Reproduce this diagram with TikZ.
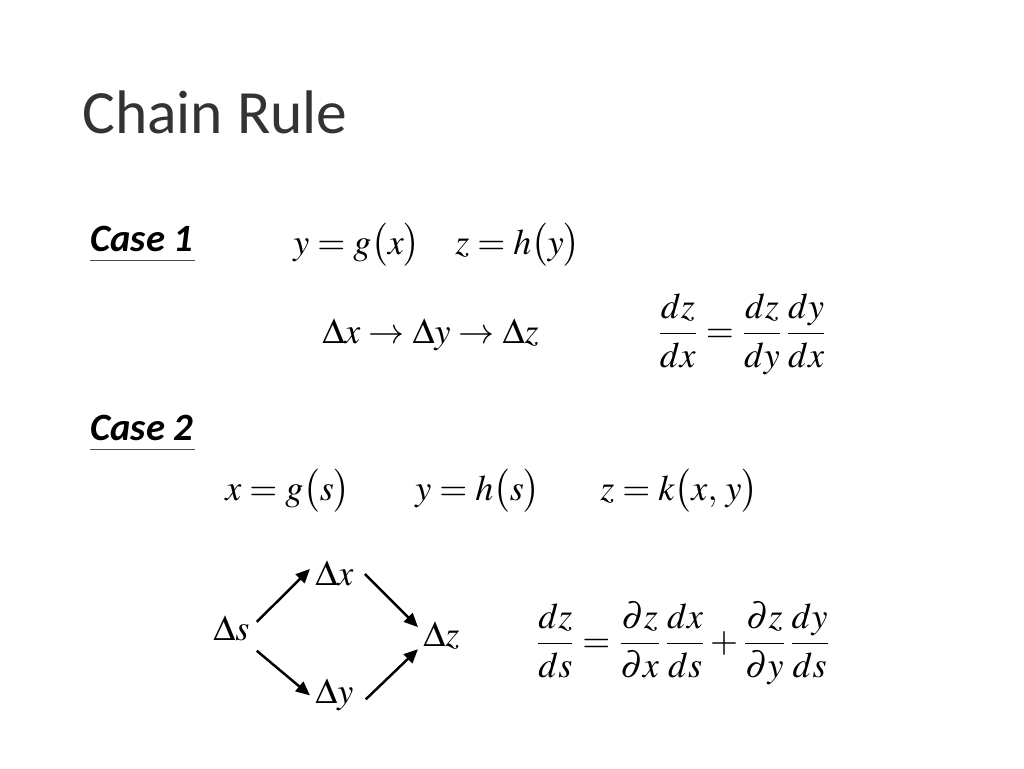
\documentclass[tikz,border=0pt]{standalone}
\usepackage{mathptmx}
\usepackage[no-math]{fontspec}
\newfontfamily\slidefont{Carlito}
\usetikzlibrary{arrows.meta}

\begin{document}
\begin{tikzpicture}[x=0.02cm,y=-0.02cm,
  every node/.style={inner sep=0pt},
  eq/.style={anchor=base west,font=\fontsize{20.5}{24}\selectfont},
  case/.style={anchor=base west,font=\slidefont\bfseries\itshape\fontsize{22}{24}\selectfont},
  flow/.style={-{Triangle[length=8pt,width=7pt]},line width=1.4pt}]
\useasboundingbox (0,0) rectangle (1024,768);
\node[anchor=base west,font=\slidefont\fontsize{35}{40}\selectfont,text=black!80] (title) at (82,133) {Chain Rule};
% case 1
\node[case] (case1) at (90,251) {Case 1};
\draw[line width=0.6pt,black!70] ([yshift=-5.4pt]case1.base west) -- ([yshift=-5.4pt,xshift=1pt]case1.base east);
\node[eq] (yg) at (293,254) {$y=g\bigl(x\bigr)$};
\node[eq] (zh) at (455,254) {$z=h\bigl(y\bigr)$};
\node[eq] (chain) at (322,343) {$\Delta x\rightarrow\Delta y\rightarrow\Delta z$};
\node[font=\fontsize{20.5}{24}\selectfont] (rule1) at (742,334) {$\displaystyle\frac{dz}{dx}=\frac{dz}{dy}\,\frac{dy}{dx}$};
% case 2
\node[case] (case2) at (90,440) {Case 2};
\draw[line width=0.6pt,black!70] ([yshift=-5.4pt]case2.base west) -- ([yshift=-5.4pt,xshift=1pt]case2.base east);
\node[eq] (xg) at (225,500) {$x=g\bigl(s\bigr)$};
\node[eq] (yh) at (415,500) {$y=h\bigl(s\bigr)$};
\node[eq] (zk) at (600,500) {$z=k\bigl(x,\,y\bigr)$};
% tree of changes
\node[eq] (s) at (213,640) {$\Delta s$};
\node[eq] (x) at (315,585) {$\Delta x$};
\node[eq] (z) at (423,646) {$\Delta z$};
\node[eq] (y) at (315,703) {$\Delta y$};
\draw[flow] ([shift={(7,-6)}]s.east) -- ([shift={(-5,-4)}]x.west);
\draw[flow] ([shift={(11,1)}]x.east) -- ([shift={(-5,-8)}]z.west);
\draw[flow] ([shift={(7,10)}]s.south east) -- ([shift={(-5,1)}]y.west);
\draw[flow] ([shift={(12,5)}]y.east) -- ([shift={(-5,14)}]z.west);
\node[font=\fontsize{20.5}{24}\selectfont] (rule2) at (683,643) {$\displaystyle\frac{dz}{ds}=\frac{\partial z}{\partial x}\,\frac{dx}{ds}+\frac{\partial z}{\partial y}\,\frac{dy}{ds}$};
\end{tikzpicture}
\end{document}
